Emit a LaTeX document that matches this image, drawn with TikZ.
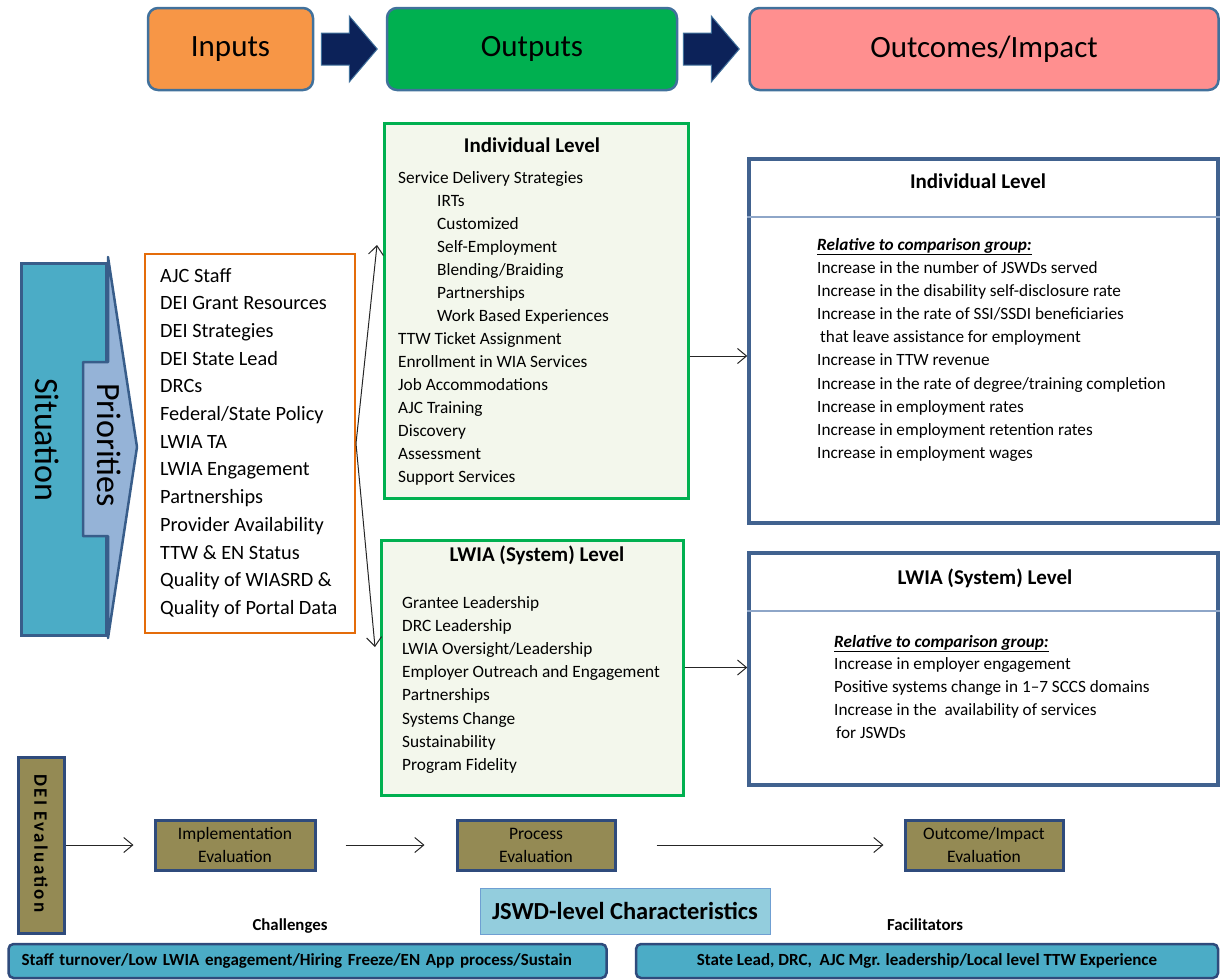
\documentclass[tikz,border=0pt]{standalone}
\usepackage{fontspec}
\setmainfont{Carlito}
\usetikzlibrary{arrows.meta}

\definecolor{hdrblue}{HTML}{41719C}
\definecolor{navyarrow}{HTML}{0C2259}
\definecolor{inorange}{HTML}{F79646}
\definecolor{outgreen}{HTML}{00B050}
\definecolor{impactpink}{HTML}{FF8F8F}
\definecolor{sitteal}{HTML}{4BACC6}
\definecolor{sitedge}{HTML}{385D8A}
\definecolor{prioblue}{HTML}{95B3D7}
\definecolor{listorange}{HTML}{E46C0A}
\definecolor{lvlfill}{HTML}{F3F7EC}
\definecolor{resedge}{HTML}{41628F}
\definecolor{resdiv}{HTML}{8EA6C8}
\definecolor{evalolive}{HTML}{948A54}
\definecolor{evaledge}{HTML}{2F4B7C}
\definecolor{jswdfill}{HTML}{93CDDD}
\definecolor{jswdedge}{HTML}{6F9FD2}

\tikzset{
  hdrbox/.style={draw=hdrblue, line width=2.5pt, rounded corners=10pt, minimum height=82, font=\fontsize{31}{36}\selectfont},
  blockarrow/.style={fill=navyarrow, draw=hdrblue, line width=1pt},
  vtext/.style={rotate=-90, inner sep=0pt, font=\fontsize{34}{40}\selectfont},
  inline/.style={anchor=base west, inner sep=0pt, font=\fontsize{20.3}{24}\selectfont},
  lvlbox/.style={draw=outgreen, line width=3pt, fill=lvlfill},
  lvltitle/.style={inner sep=0pt, font=\bfseries\fontsize{21}{25}\selectfont},
  lvlline/.style={anchor=base west, inner sep=0pt, font=\fontsize{17.3}{21}\selectfont},
  resbox/.style={draw=resedge, line width=3.5pt},
  resline/.style={anchor=base west, inner sep=0pt, font=\fontsize{17.2}{21}\selectfont},
  evalbox/.style={draw=evaledge, line width=3pt, fill=evalolive, minimum height=50, align=center, font=\fontsize{17.5}{23}\selectfont},
  barbox/.style={draw=evaledge, line width=2.5pt, fill=sitteal, rounded corners=5pt, minimum height=34, font=\bfseries\fontsize{17}{19}\selectfont},
  link/.style={->, line width=1pt, draw=black!85},
}

\begin{document}
\begin{tikzpicture}[x=1pt, y=-1pt, >={Straight Barb[length=9pt,width=15pt]}]
\useasboundingbox (0,0) rectangle (1221,980);

% header row
\node[hdrbox, fill=inorange, minimum width=165] (inputs) at (230.5,49) {Inputs};
\node[hdrbox, fill=outgreen, minimum width=290] (outputs) at (532,49) {Outputs};
\node[hdrbox, fill=impactpink, minimum width=469] (impact) at (984,49) {Outcomes/Impact};
\filldraw[blockarrow] ([xshift=7pt]inputs.east) ++(0,-16) -- ++(28,0) -- ++(0,-17) -- ++(28,33) -- ++(-28,33) -- ++(0,-17) -- ++(-28,0) -- cycle;
\filldraw[blockarrow] ([xshift=5pt]outputs.east) ++(0,-16) -- ++(28,0) -- ++(0,-17) -- ++(28,33) -- ++(-28,33) -- ++(0,-17) -- ++(-28,0) -- cycle;

% situation and priorities
\node[draw=sitedge, line width=3pt, fill=sitteal, minimum width=85, minimum height=372] (situation) at (63.5,449) {};
\filldraw[fill=prioblue, draw=sitedge, line width=2.5pt, line join=round] (83,362) -- (108,362) -- (108,257) -- (137,447) -- (108,638) -- (108,536) -- (83,536) -- cycle;
\node[vtext] (sittext) at (47,440) {Situation};
\node[vtext] (priotext) at (109,445) {Priorities};

% inputs list
\node[draw=listorange, line width=2pt, minimum width=210, minimum height=379] (inbox) at (250,443.5) {};
\foreach \txt [count=\i from 0] in {AJC Staff, DEI Grant Resources, DEI Strategies, DEI State Lead, DRCs, Federal/State Policy, LWIA TA, LWIA Engagement, Partnerships, Provider Availability, TTW \& EN Status, Quality of WIASRD \&, Quality of Portal Data}
  \node[inline] (in\i) at (160,282+27.7*\i) {\txt};

% outputs
\node[lvlbox, minimum width=304, minimum height=375] (indout) at (536,310.5) {};
\node[lvltitle] (indouttitle) at (532,145) {Individual Level};
\foreach \ind/\txt [count=\i from 0] in {0/Service Delivery Strategies, 1/IRTs, 1/Customized, 1/Self-Employment, 1/{Blending/Braiding}, 1/Partnerships, 1/Work Based Experiences, 0/TTW Ticket Assignment, 0/Enrollment in WIA Services, 0/Job Accommodations, 0/AJC Training, 0/Discovery, 0/Assessment, 0/Support Services}
  \node[lvlline] (indout\i) at (398+39*\ind,183+23*\i) {\txt};

\node[lvlbox, minimum width=302, minimum height=255] (lwiaout) at (532,667.5) {};
\node[lvltitle] (lwiaouttitle) at (537,555) {LWIA (System) Level};
\foreach \txt [count=\i from 0] in {Grantee Leadership, DRC Leadership, LWIA Oversight/Leadership, Employer Outreach and Engagement, Partnerships, Systems Change, Sustainability, Program Fidelity}
  \node[lvlline] (lwiaout\i) at (402,608+23.2*\i) {\txt};

% fork from inputs
\coordinate (forkup) at (377,245);
\coordinate (forkdn) at (375,647);
\draw[link] (inbox.east) -- (forkup);
\draw[link] (inbox.east) -- (forkdn);

% outcomes
\node[resbox, minimum width=469, minimum height=364] (indres) at (983.5,341) {};
\draw[resdiv, line width=1.5pt] (indres.west |- 0,217) -- (indres.east |- 0,217);
\node[lvltitle] (indrestitle) at (978,181) {Individual Level};
\node[resline] (indrel) at (817,250) {\underline{\textbf{\textit{Relative to comparison group:}}}};
\foreach \txt [count=\i from 0] in {Increase in the number of JSWDs served, Increase in the disability self-disclosure rate, Increase in the rate of SSI/SSDI beneficiaries, {\hspace{3pt}that leave assistance for employment}, Increase in TTW revenue, Increase in the rate of degree/training completion, Increase in employment rates, Increase in employment retention rates, Increase in employment wages}
  \node[resline] (indres\i) at (817,273+23.2*\i) {\txt};

\node[resbox, minimum width=469, minimum height=232] (lwiares) at (983.5,669) {};
\draw[resdiv, line width=1.5pt] (lwiares.west |- 0,611) -- (lwiares.east |- 0,611);
\node[lvltitle] (lwiarestitle) at (985,578) {LWIA (System) Level};
\node[resline] (lwiarel) at (834,647) {\underline{\textbf{\textit{Relative to comparison group:}}}};
\foreach \txt [count=\i from 0] in {Increase in employer engagement, Positive systems change in 1--7 SCCS domains, Increase in the\ \ availability of services, {\hspace{2pt}for JSWDs}}
  \node[resline] (lwiares\i) at (834,669+23*\i) {\txt};

\draw[link] (indout.east |- 0,356) -- (indres.west |- 0,356);
\draw[link] (lwiaout.east) -- (lwiaout.east -| lwiares.west);

% evaluation row
\node[draw=evaledge, line width=3pt, fill=evalolive, minimum width=46, minimum height=176] (deibox) at (41,845) {};
\node[rotate=-90, inner sep=0pt, font=\bfseries\fontsize{19}{21}\selectfont\addfontfeature{LetterSpace=12}] (deitext) at (41,843.5) {DEI Evaluation};
\node[evalbox, minimum width=160] (impl) at (235,845) {Implementation\\Evaluation};
\node[evalbox, minimum width=158] (proc) at (536,845) {Process\\Evaluation};
\node[evalbox, minimum width=158] (outc) at (984,845) {Outcome/Impact\\Evaluation};
\draw[link, shorten >=20pt] (deibox.east) -- (impl.west);
\draw[link, shorten <=29pt, shorten >=31pt] (impl.east) -- (proc.west);
\draw[link, shorten <=40pt, shorten >=20pt] (proc.east) -- (outc.west);

% characteristics, challenges, facilitators
\node[draw=jswdedge, line width=1pt, fill=jswdfill, minimum width=290, minimum height=46, font=\bfseries\fontsize{24.5}{28}\selectfont] (jswd) at (625,911) {JSWD-level Characteristics};
\node[font=\bfseries\fontsize{16.8}{18}\selectfont] (chal) at (290,926) {Challenges};
\node[font=\bfseries\fontsize{16.8}{18}\selectfont] (facil) at (925,925) {Facilitators};
\node[barbox, text width=572, align=left, inner xsep=13pt] (chalbar) at (307.5,961) {Staff turnover/Low LWIA engagement/Hiring Freeze/EN App process/Sustain};
\node[barbox, minimum width=582] (facilbar) at (927,961) {State Lead, DRC,\ \ AJC Mgr. leadership/Local level TTW Experience};
\end{tikzpicture}
\end{document}
